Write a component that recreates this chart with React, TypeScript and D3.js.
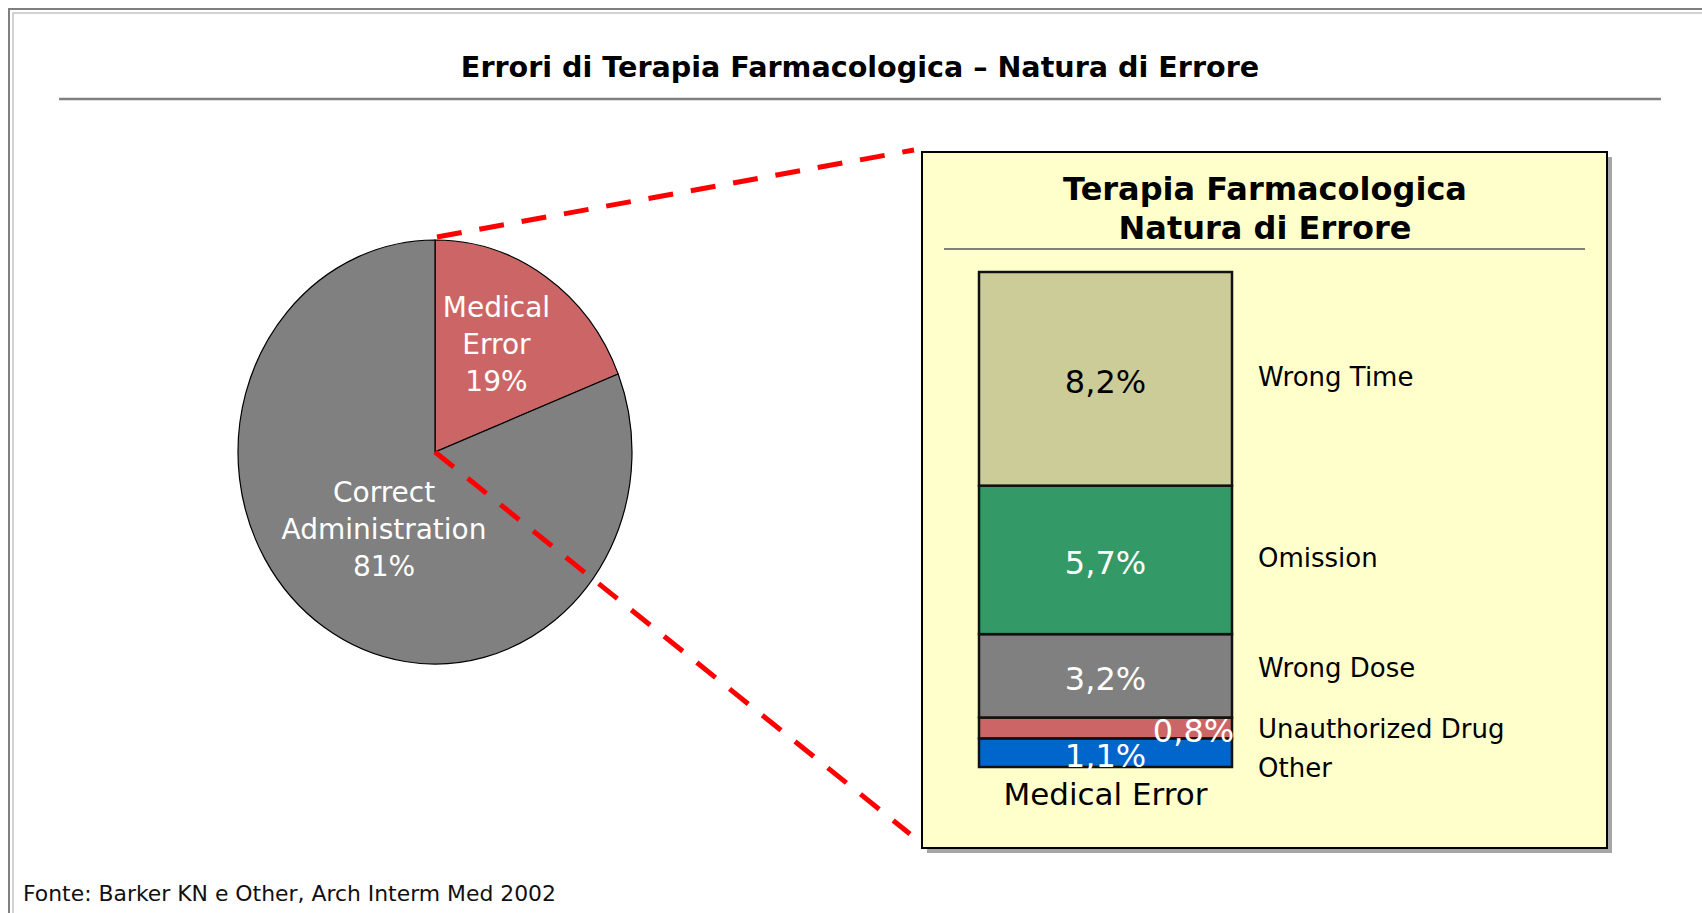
import * as d3 from "d3";
import { useEffect } from "react";

// pie: share of administrations
const pieLabels = ["Medical Error", "Correct Administration"];
const pieValues = [19, 81];
const pieColors = ["#CC6666", "#808080"];
const pieLabelRadius = [0.6, 0.46];
const pieLabelShiftX = [-5, 0];

// stacked bar: nature of the error (bottom to top)
const errorTypes = ["Other", "Unauthorized Drug", "Wrong Dose", "Omission", "Wrong Time"];
const errorValues = [1.1, 0.8, 3.2, 5.7, 8.2];
const errorColors = ["#0066CC", "#CC6666", "#808080", "#339966", "#CCCC99"];
const errorTextColors = ["#fff", "#fff", "#fff", "#fff", "#000"];
const errorLabelShift = [0, 88, 0, 0, 0];
const legendShift = [2, 3, -6, 0, 0];
const barCategory = "Medical Error";

const title = "Errori di Terapia Farmacologica – Natura di Errore";
const boxTitle = ["Terapia Farmacologica", "Natura di Errore"];
const source = "Fonte: Barker KN e Other, Arch Interm Med 2002";

const itLocale = d3.formatLocale({ decimal: ",", thousands: ".", grouping: [3], currency: ["", "€"] });
const fmtPct = itLocale.format(".1f");

const font = "'DejaVu Sans', Verdana, sans-serif";

export default function App() {
  useEffect(() => {
    document.body.style.overflow = "hidden";
  }, []);

  const width = 1702;
  const height = 913;

  // pie geometry (slightly stretched vertically, like the original)
  const cx = 435;
  const cy = 452;
  const rx = 197;
  const ry = 212;
  const sy = ry / rx;

  const pie = d3.pie<number>().sort(null).value((d) => d);
  const arcs = pie(pieValues);
  const arc = d3.arc<d3.PieArcDatum<number>>().innerRadius(0).outerRadius(rx);

  // zoom box
  const box = { x: 922, y: 152, w: 685, h: 696 };

  // bar
  const barX = 979;
  const barW = 253;
  const barTop = 272;
  const barBottom = 767;
  const row: Record<string, number> = {};
  errorTypes.forEach((k, i) => (row[k] = errorValues[i]));
  const stack = d3.stack<Record<string, number>>().keys(errorTypes)([row]);
  const total = d3.sum(errorValues);
  const yScale = d3.scaleLinear().domain([0, total]).range([barBottom, barTop]);

  // series names sit at segment midpoints, pushed down when they would collide
  const legendY = stack.map((s) => (yScale(s[0][0]) + yScale(s[0][1])) / 2);
  for (let i = legendY.length - 2; i >= 0; i--) {
    if (legendY[i] < legendY[i + 1] + 40) legendY[i] = legendY[i + 1] + 40;
  }

  const midX = barX + barW / 2;

  return (
    <svg
      width={width}
      height={height}
      style={{ position: "absolute", left: 0, top: 0, background: "#fff" }}
      fontFamily={font}
    >
      {/* frame */}
      <rect x={9} y={9} width={1800} height={1000} fill="none" stroke="#7f7f7f" strokeWidth={2} />
      <rect x={13} y={13} width={1800} height={1000} fill="none" stroke="#c4c4c4" strokeWidth={1.5} />

      {/* title */}
      <text x={860} y={77} textAnchor="middle" fontWeight="bold" fontSize={28.6} fill="#000">
        {title}
      </text>
      <line x1={59} x2={1661} y1={99} y2={99} stroke="#808080" strokeWidth={2.5} />

      {/* pie */}
      <g transform={`translate(${cx},${cy}) scale(1,${sy})`}>
        {arcs.map((a, i) => (
          <path
            key={i}
            d={arc(a) || ""}
            fill={pieColors[i]}
            stroke="#000"
            strokeWidth={1.2}
            vectorEffect="non-scaling-stroke"
          />
        ))}
      </g>
      {arcs.map((a, i) => {
        const mid = (a.startAngle + a.endAngle) / 2;
        const r = rx * pieLabelRadius[i];
        const lx = cx + r * Math.sin(mid) + pieLabelShiftX[i];
        const ly = cy - r * Math.cos(mid) * sy;
        const lines = [...pieLabels[i].split(" "), `${pieValues[i]}%`];
        return (
          <text key={i} x={lx} textAnchor="middle" fontSize={28} fill="#fff">
            {lines.map((t, j) => (
              <tspan key={j} x={lx} y={ly + (j - (lines.length - 1) / 2) * 37} dy="0.24em">
                {t}
              </tspan>
            ))}
          </text>
        );
      })}

      {/* connector lines */}
      <line
        x1={cx + 2}
        y1={cy - ry - 3}
        x2={box.x - 8}
        y2={box.y - 2}
        stroke="#FF0000"
        strokeWidth={5}
        strokeDasharray="25 18"
      />
      <line
        x1={cx}
        y1={cy}
        x2={box.x - 12}
        y2={box.y + box.h - 14}
        stroke="#FF0000"
        strokeWidth={5}
        strokeDasharray="24 18"
      />

      {/* box */}
      <rect x={box.x + 5} y={box.y + 5} width={box.w} height={box.h} fill="#A6A6A6" />
      <rect x={box.x} y={box.y} width={box.w} height={box.h} fill="#FFFFCC" stroke="#000" strokeWidth={2} />
      {boxTitle.map((t, i) => (
        <text key={i} x={1265} y={200 + i * 39} textAnchor="middle" fontWeight="bold" fontSize={32} fill="#000">
          {t}
        </text>
      ))}
      <line x1={944} x2={1585} y1={249} y2={249} stroke="#808080" strokeWidth={2} />

      {/* stacked bar */}
      {stack.map((s, i) => (
        <rect
          key={s.key}
          x={barX}
          y={yScale(s[0][1])}
          width={barW}
          height={yScale(s[0][0]) - yScale(s[0][1])}
          fill={errorColors[i]}
          stroke="#111"
          strokeWidth={2.5}
        />
      ))}
      {stack.map((s, i) => (
        <text
          key={s.key}
          x={midX + errorLabelShift[i]}
          y={(yScale(s[0][0]) + yScale(s[0][1])) / 2 + 3}
          dy="0.36em"
          textAnchor="middle"
          fontSize={32}
          fill={errorTextColors[i]}
        >
          {fmtPct(errorValues[i])}%
        </text>
      ))}
      <text x={midX} y={805} textAnchor="middle" fontSize={31} fill="#000">
        {barCategory}
      </text>

      {/* series names */}
      {errorTypes.map((t, i) => (
        <text key={t} x={1258} y={legendY[i] + legendShift[i]} dy="0.28em" fontSize={26} fill="#000">
          {t}
        </text>
      ))}

      {/* source */}
      <text x={23} y={901} fontSize={21.9} fill="#111">
        {source}
      </text>
    </svg>
  );
}
